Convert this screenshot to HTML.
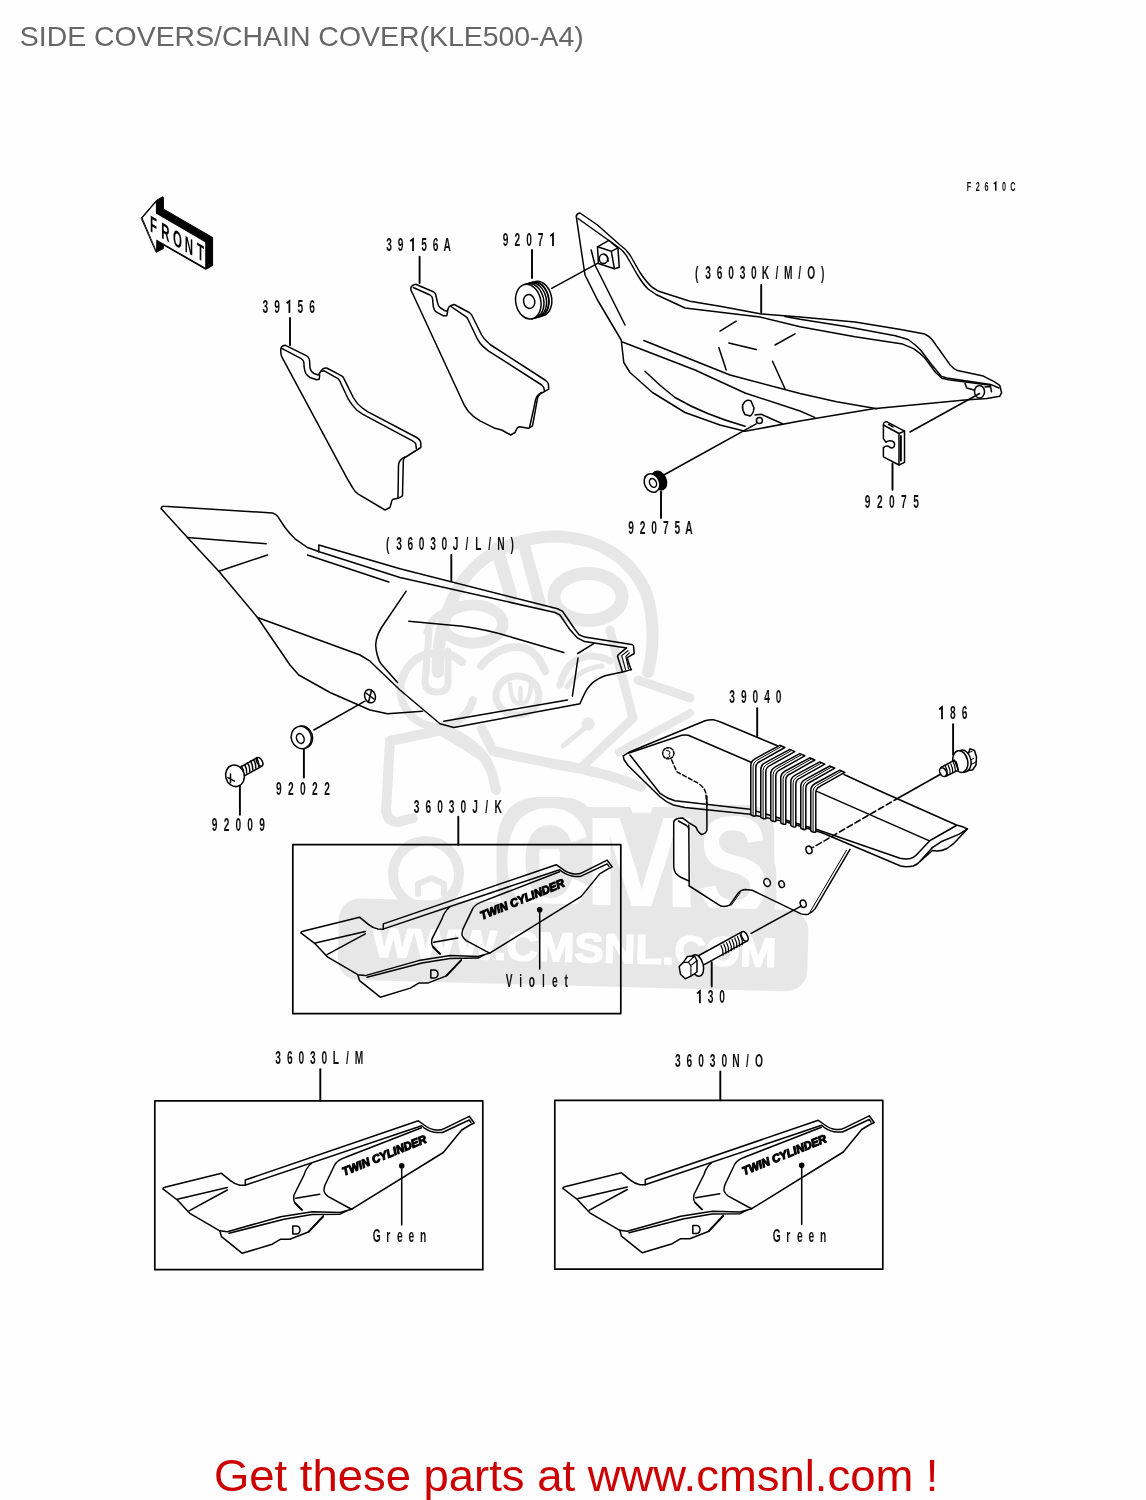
<!DOCTYPE html>
<html><head><meta charset="utf-8"><style>
html,body{margin:0;padding:0;background:#fefefe;}
body{width:1146px;height:1500px;overflow:hidden;position:relative;}
svg{position:absolute;left:0;top:0;will-change:transform;}
text{font-family:"Liberation Sans",sans-serif;}
.lb{text-anchor:middle;stroke:none;}
</style></head><body>
<svg width="1146" height="1500" viewBox="0 0 1146 1500">
<text x="19.8" y="46" font-size="27.5" fill="#666" textLength="564" lengthAdjust="spacingAndGlyphs">SIDE COVERS/CHAIN COVER(KLE500-A4)</text>

<g fill="none" stroke="#e7e7e7" stroke-width="10" stroke-linecap="round" stroke-linejoin="round">
  <path d="M438,672 C436,640 448,590 478,564 C505,541 540,535 565,537 C600,540 630,558 645,590 C655,615 654,650 648,672" stroke-width="12"/>
  <path d="M497,549 L511,596" stroke-width="13"/>
  <path d="M525,549 L540,604" stroke-width="12"/>
  <ellipse cx="473" cy="624" rx="30" ry="19" stroke-width="11"/>
  <ellipse cx="588" cy="597" rx="34" ry="23.5" stroke-width="13"/>
  <path d="M429,632 L425,683 Q426,692 437,692 Q448,692 448,683 L448,651" stroke-width="7"/>
  <path d="M462,662 A37,37 0 1 0 473,700" stroke-width="8"/>
  <path d="M444,733 Q462,743 487,760" stroke-width="9"/>
  <path d="M427,632 Q430,620 440,614" stroke-width="7"/>
  <ellipse cx="517.5" cy="695.5" rx="21.5" ry="19.5" stroke-width="7"/>
  <path d="M510,684 Q511,704 520.5,704 Q530,704 531,684 M520.5,688 L520.5,701" stroke-width="4.5"/>
  <path d="M481,666 Q500,643 525,648 Q538,653 545,671" stroke-width="8"/>
  <path d="M560,685 Q566,660 588,656 Q602,656 610,661" stroke-width="7"/>
  <path d="M567,687 Q580,668 602,666" stroke-width="5"/>
  <path d="M586,727 L563,746" stroke-width="5"/>
  <path d="M610,630 L633,718 L582,767" stroke-width="9"/>
  <path d="M638,680 L690,698" stroke-width="9"/>
  <path d="M690,713 L619,752" stroke-width="8"/>
  <path d="M390,741 L440,730.5 Q455,733 461,737.5 Q478,748 483,756 Q492,770 493,777 L496,790"/>
  <path d="M482,729 L493,751 Q520,757 560,765 Q605,772 641,787"/>
  <path d="M390,741 L386,811 Q388,822 398,822 L413,818"/>
  <circle cx="426" cy="874" r="33"/>
  <path d="M418,894 L418,884 L431,878 L444,884 L444,894" stroke-width="6"/>
</g>
<circle cx="588" cy="724" r="6.5" fill="#e7e7e7"/>
<defs><filter id="cmsf" x="-30%" y="-40%" width="160%" height="180%" color-interpolation-filters="sRGB"><feMorphology operator="dilate" radius="20" in="SourceAlpha" result="d"/><feMorphology operator="erode" radius="9" in="d" result="e"/><feFlood flood-color="#e7e7e7"/><feComposite in2="e" operator="in"/></filter></defs>
<g font-weight="bold" filter="url(#cmsf)">
<text x="502.6" y="914" font-size="150" textLength="88.8" lengthAdjust="spacingAndGlyphs" fill="#000">C</text>
<text x="583.3" y="914" font-size="140" textLength="116.6" lengthAdjust="spacingAndGlyphs" fill="#000">M</text>
<text x="697.2" y="914" font-size="140" textLength="72.3" lengthAdjust="spacingAndGlyphs" fill="#000">S</text>
</g><g font-weight="bold">
<text x="502.6" y="914" font-size="150" textLength="88.8" lengthAdjust="spacingAndGlyphs" fill="#fefefe">C</text>
<text x="583.3" y="914" font-size="140" textLength="116.6" lengthAdjust="spacingAndGlyphs" fill="#fefefe">M</text>
<text x="697.2" y="914" font-size="140" textLength="72.3" lengthAdjust="spacingAndGlyphs" fill="#fefefe">S</text>
</g>
<g transform="rotate(1.5 574 943)">
<rect x="338.2" y="904.2" width="469.8" height="81.5" rx="21" fill="#e7e7e7"/>
<text x="372.7" y="961.7" font-size="41" font-weight="bold" fill="#fefefe" stroke="#fefefe" stroke-width="1.5" stroke-linejoin="round" textLength="404" lengthAdjust="spacingAndGlyphs">WWW.CMSNL.COM</text>
</g>

<g fill="none" stroke="#000" stroke-width="1.5" stroke-linejoin="round" stroke-linecap="round">
<path d="M141.4,217.8 L156.4,200.4 L162.6,196.8 L163.4,197.8 L163.4,209 L212.6,237.5 L212.6,265.5 L205.8,269.4 L163.4,245 L163.4,248.5 L156.5,252.2 Z" fill="#000" stroke="#000" stroke-width="1"/>
<path d="M142.6,218 L155.9,202.6 L155.9,213.6 L205.2,242.2 L205.2,267.4 L156.3,239.6 L156.1,249.8 Z" fill="#fff" stroke="none"/>
<g transform="translate(150.4,231.4) skewY(30)"><text transform="scale(0.5,1)" x="6 30.2 54.2 77.2 100.2" y="0" font-size="23" font-weight="bold" text-anchor="middle" fill="#000" stroke="none">FRONT</text></g>
<path d="M280.8,349 Q281,346 285,345.2 L306.7,355.8 Q309.5,357.5 309.5,360 L310,368.3 Q311,372 314,373.5 L318.3,375 Q320,373 320.5,371.5 L322.5,369.2 Q324.5,367.8 326.7,368 L341.7,375.8 Q343.5,377 344.2,379.2 L353.3,397.5 Q357,404 361.7,407.5 L367.5,411.7 L416.7,437.5 Q421,440 420.8,444 L420.8,447.5 L405,457.5 Q403.3,459 403.3,461 L402.5,495.8 L398.3,498.3 L393.3,499.2 Q391.7,500 391.5,502 L390,507.5 L385,510 L358.3,494.2 Q354.5,491.5 352.5,487.5 L347.5,479.2 L281.7,356.7 Q280.5,354 280.8,349 Z" />
<path d="M281.7,348.3 L300.8,358.3 Q303.5,360 303.8,362 L304.2,367.5 Q304.6,371 305.8,373.3 Q307.5,376 310,377.5 L316.7,379.7 L319.2,379.2 L319.7,375" />
<path d="M321.7,371.3 L324.2,370.8 L337.5,378.3 Q339,379.5 339.7,380.8 L348.3,399.2 Q352,405.5 356.7,410 L362.5,414.2 L412.5,440.8 Q415.5,442.5 415.8,444.2 L416.3,448.3" />
<path d="M405,457 Q399,459.5 398.5,465 L398,497.5" />
<path d="M290,318 L290,345.3" stroke-width="1.9"/>
<path d="M286.60,303.29 L289.40,300.99 L289.40,313.10" stroke-width="1.75" stroke-linecap="butt" stroke-linejoin="miter"/>
<text class="lb" transform="scale(0.58,1)" x="457.41 477.59 497.76 517.93 538.10" y="313.10" font-size="17.6" font-weight="bold" fill="#111" xml:space="preserve">39 56</text>
<path d="M410.8,288.3 Q411,285 415.8,284.2 L433.3,291.7 Q435.5,293 435.8,295 L437.5,302.5 Q438,306 440,307.5 L445,310.8 L447.5,311.3 L448.3,308.3 Q449,306 451,305.5 L454.2,304.5 L469.2,312.5 Q471,314 471.7,315 L481.7,335 Q484,339 487,341.5 L490.8,345 L545,380 Q548.5,382.5 548.5,385 L548.7,389.2 L540,394.2 Q537.8,396 537.5,398.3 L532.5,425.8 L528.3,428.3 L524.2,427.5 L519.2,426.7 Q517,427.5 516.7,429 L515,432.5 L510.8,435 L501.7,430 L495,428.3 L480,420.8 Q472.5,416.5 468,411 L464.2,405 L412.5,293.3 Q410.5,290 410.8,288.3 Z" />
<path d="M413.3,287.5 L430,295 Q432.2,296.5 432.5,298.3 L433.3,306.7 Q434,310 435.8,311.7 L443.3,315.8 L446.7,315.8 L447.6,312" />
<path d="M451,306.5 L465.8,316.7 Q467.5,318 468.3,320 L477.5,339.2 Q480,344 483.3,346.7 L488.3,350.8 L541.7,385 Q544,387 544.2,389.2 L544.4,390.8" />
<path d="M541.5,392.5 Q536.5,395.5 535.5,400 L533.8,408.3 L529.5,427.5" />
<path d="M419.6,256.7 L419.6,283" stroke-width="1.9"/>
<path d="M410.22,241.29 L413.02,238.99 L413.02,251.10" stroke-width="1.75" stroke-linecap="butt" stroke-linejoin="miter"/>
<text class="lb" transform="scale(0.58,1)" x="670.69 690.79 710.90 731.00 751.10 771.21" y="251.10" font-size="17.6" font-weight="bold" fill="#111" xml:space="preserve">39 56A</text>
<g transform="rotate(-12 528.3 301.7)"><path d="M528.3,284.2 L536.3,283.4 A12.5,17.5 0 0 1 536.3,318.4 L528.3,319.2" fill="#fff"/><path d="M531.3,284 A12.5,17.5 0 0 1 531.3,319"/><path d="M534,283.8 A12.5,17.5 0 0 1 534,318.8"/><path d="M536.6,283.5 A12.5,17.5 0 0 1 536.6,318.5"/><path d="M539.5,283.4 A12.5,17.5 0 0 1 539.5,318.4 L528.3,319.2"/><ellipse cx="528.3" cy="301.7" rx="12.5" ry="17.5" fill="#fff"/><ellipse cx="529.2" cy="301.7" rx="5.6" ry="7"/></g>
<path d="M532,250 L532,278" stroke-width="1.9"/>
<path d="M551.7,288.3 L601.2,261.3" />
<path d="M550.20,236.19 L553.00,233.89 L553.00,246.00" stroke-width="1.75" stroke-linecap="butt" stroke-linejoin="miter"/>
<text class="lb" transform="scale(0.58,1)" x="871.90 891.98 912.07 932.16 952.24" y="246.00" font-size="17.6" font-weight="bold" fill="#111" xml:space="preserve">9207 </text>
<path d="M576.2,216.2 Q577,213 580,213 L597.5,225 L620,245 Q626,249 630,255 L640,272.5 Q647,283 652.5,287.5 L658.8,291.3 L690,301.3 L720,306.3 L760,313.8 L800,317.1 L855,322.1 L900.8,329.4 L924.6,334 Q929,336 932,339.5 L950.3,365.1 Q953,368.5 957.6,370.6 L983.3,376.1 L994.2,381.6 L999.7,385.3 L1001.6,392.6 L999.7,396.3 L986.9,398.5 L964.9,400 L873.3,408.7 L800,421 L745,431.3 L720,425 L685,412.5 L652.5,392.5 L630,372.5 L623.8,362.5 L621.2,340 L597.5,300 L585,275 L581.2,250 Z" />
<path d="M785,316.4 L800,319.3 L845.8,326.6 L895.3,335.8 L908.1,339.5 Q916,345 921,350.5 L932,365.1 L941.1,376.1 L946.6,378 L990.6,384.4 L999,388" />
<path d="M578,218.5 L618,247 Q624,251 627.5,257.5 L637.5,275 Q643,284 648,289 L656,294.5 L685,308 L760,317 L800,326.7 L855,336.7 L902.6,344.1 L913.6,348.6 Q920,353 924.6,357.8 L935.6,372.5 L942,378.3 L948.4,379.8 L990.6,385.3" />
<path d="M622.5,342 L695,370 L745,393 L800,411 L814.7,417.4" />
<path d="M643.8,340.5 L730,375 L800,393.5 L836.6,401.8 L877,408.7" />
<path d="M591.2,250 L595,265 L625,325" />
<path d="M645,371.2 Q660,386 675,397.5 Q705,415 745,426.2" />
<path d="M720,331.2 L736.2,321.2" />
<path d="M728.8,343 L756.2,349.5" />
<path d="M775,345 L795,333.8" />
<path d="M718.8,347.5 L726.2,370" />
<path d="M772.5,361.2 L785,388.8" />
<path d="M745,401.5 Q748,399.5 751,401 L754,408 Q753.5,414 750,416 L745,414.5 Q742,410 742.6,405 Z" />
<circle cx="759.4" cy="420.6" r="3" fill="#fff"/>
<path d="M755,415 L761.2,414.3 L782.5,423.8" />
<path d="M597.5,246.8 L608.8,240.3 L617.9,247.8 L619.3,267.3 L614.4,268.7 L598.4,263.5 Z" fill="#fff"/>
<path d="M597.5,246.8 L611.3,251.3 L617.9,247.8 M611.3,251.3 L614.4,268.7" />
<ellipse cx="603.5" cy="258.8" rx="4.2" ry="4.8" fill="#fff"/>
<path d="M604.5,254.5 Q608.5,256 608,261.5" />
<path d="M756.2,423.8 L663.8,475" />
<path d="M965,383.5 L966.8,388 L974,389.9" />
<ellipse cx="979.5" cy="391.7" rx="5" ry="6.3" fill="#fff"/>
<path d="M985,387 L990.5,386.5 L991.5,391.8" />
<path d="M979.6,393.5 L910,432" />
<path d="M761.2,285 L761.2,313" stroke-width="1.9"/>
<text class="lb" transform="scale(0.58,1)" x="1201.21 1220.96 1240.71 1260.45 1280.20 1299.95 1319.70 1339.45 1359.20 1378.95 1398.70 1418.45" y="279.40" font-size="17.6" font-weight="bold" fill="#111" xml:space="preserve">(36030K/M/O)</text>
<path d="M993.81,183.84 L995.80,182.29 L995.80,190.80" stroke-width="1.4" stroke-linecap="butt" stroke-linejoin="miter"/>
<text class="lb" transform="scale(0.58,1)" x="1670.52 1685.69 1700.86 1716.03 1731.21 1746.38" y="190.80" font-size="12.5" font-weight="bold" fill="#111" xml:space="preserve">F26 0C</text>
<path d="M883.4,425 Q883.4,421.6 887,421.8 L904.5,431.1 L904.5,462.3 L899,465 L883.4,456.8 L883.4,447.6 Q886,445.3 888.5,446.2 Q892,449.5 894.2,446.5 Q895.5,442.5 892.5,441.2 Q888.5,440 886,442.3 L883.4,438.6 Z" fill="#fff"/>
<path d="M883.4,425 L899,433.5 L904.5,431.1 M899,433.5 L899,465" />
<path d="M888.5,424.3 L893,426.8" />
<path d="M900.9,436 L900.9,460.5" stroke-width="1.9"/>
<path d="M892.5,463.5 L892.5,489.7" stroke-width="1.9"/>
<text class="lb" transform="scale(0.58,1)" x="1496.03 1516.85 1537.67 1558.49 1579.31" y="507.60" font-size="17.6" font-weight="bold" fill="#111" xml:space="preserve">92075</text>
<ellipse cx="659.2" cy="480.5" rx="6.8" ry="9.8" transform="rotate(-25 659.2 480.5)" fill="#000"/>
<ellipse cx="652" cy="483" rx="7.4" ry="9.6" transform="rotate(-25 652 483)" fill="#fff"/>
<ellipse cx="653" cy="482.9" rx="3.3" ry="4.6" transform="rotate(-25 653 482.9)"/>
<path d="M661,491.4 L661,518" stroke-width="1.9"/>
<text class="lb" transform="scale(0.58,1)" x="1087.93 1107.93 1127.93 1147.93 1167.93 1187.93" y="533.60" font-size="17.6" font-weight="bold" fill="#111" xml:space="preserve">92075A</text>
<path d="M161.2,508.8 Q161.5,506 163.8,506.2 L272.5,513 Q276,514 277.5,516.2 L285,527.5 Q290,534 295,538.8 L307.5,547.5 L320,552 L400,577.5 L555,612.5 L560,615 L570,629.8 L577.7,638.2 L584.7,641.6 L626.5,647.9" />
<path d="M161.2,508.8 L187.5,537.5 L218.8,571.2 L257.5,617.5 L290,665 L298.8,675 L330,692.5 L370,710 L387.5,713.8 L422.5,711.2" />
<path d="M318.8,552 L318.8,545 L400,568.8 L557.5,608.8 L562.5,611.2 Q570,622 574.2,628.4 L579.1,634.7 L584.7,637.1 L631.4,644.4 Q633.5,645 633.5,645.8 L634.2,653.5 L627.2,657.7 L629.3,664.7 L631.1,669.6" />
<path d="M257.5,617.5 L360,655 L370,661.2 L400,690 L440,723.8 L453.8,727.5 L580,703.8 Q584,694 587.5,688.4 Q592,683 594.4,681.4 Q600,677.5 604.9,675.8 L622.4,672 L631.4,669.6" />
<path d="M443.8,721.2 L567.5,700" />
<path d="M187.5,537.5 L266.2,543.8" />
<path d="M218.8,571.2 L267.5,555" />
<path d="M307.5,555 L388.8,582" />
<path d="M406.2,591.2 L381.5,627.5 Q374,640 376.2,650 Q378,660 381.2,664 L397.5,682.5" />
<path d="M408.8,621.2 L462.5,626.2 Q490,630 512.5,637.5 L563.8,652.5" />
<path d="M577.7,653.5 L593.7,643.7" />
<path d="M578,658 L572.4,696.1" />
<path d="M626.5,647.9 L618.2,654.9 L617.5,656.3 L622.4,671.7" />
<path d="M628,650.7 L621.7,655.6 L625.8,670.3" stroke-width="1.1"/>
<path d="M629.3,652.8 L625.8,656.3 L628.6,668.9" stroke-width="1.1"/>
<ellipse cx="370" cy="696.2" rx="5.3" ry="6.8" transform="rotate(-20 370 696.2)" fill="#fff"/>
<path d="M366,693 L374,699 M371.5,690.5 L368.5,702" />
<path d="M365,701.2 L313.8,730" />
<path d="M451.3,555 L451.3,581" stroke-width="1.9"/>
<text class="lb" transform="scale(0.58,1)" x="668.45 687.98 707.51 727.04 746.57 766.10 785.63 805.16 824.69 844.22 863.75 883.28" y="550.20" font-size="17.6" font-weight="bold" fill="#111" xml:space="preserve">(36030J/L/N)</text>
<ellipse cx="302.5" cy="737.2" rx="10" ry="11.3" transform="rotate(-20 302.5 737.2)" fill="#fff"/>
<ellipse cx="301.3" cy="737.5" rx="10" ry="11.3" transform="rotate(-20 301.3 737.5)" fill="#fff"/>
<ellipse cx="300.3" cy="738.5" rx="3.7" ry="5" transform="rotate(-20 300.3 738.5)"/>
<path d="M303.9,749.7 L303.9,777.6" stroke-width="1.9"/>
<text class="lb" transform="scale(0.58,1)" x="480.69 501.47 522.24 543.02 563.79" y="795.00" font-size="17.6" font-weight="bold" fill="#111" xml:space="preserve">92022</text>
<path d="M239.6,767.6 L257.5,757.5 L261.9,766.2 L244.4,775.8 Z" fill="#fff"/>
<ellipse cx="259.7" cy="761.9" rx="2.6" ry="4.6" transform="rotate(-28 259.7 761.9)" fill="#fff"/>
<path d="M241.5,766.1 Q244.1,770.0 243.7,774.7"/>
<path d="M244.5,764.5 Q247.1,768.4 246.7,773.1"/>
<path d="M247.5,762.8 Q250.1,766.7 249.7,771.4"/>
<path d="M250.5,761.1 Q253.1,765.0 252.7,769.8"/>
<path d="M253.5,759.5 Q256.1,763.4 255.7,768.1"/>
<path d="M256.5,757.9 Q259.1,761.8 258.7,766.5"/>
<ellipse cx="235" cy="775.8" rx="9.3" ry="10.9" transform="rotate(-15 235 775.8)" fill="#fff"/>
<path d="M230.5,774.1 L230.5,782.8 M227.9,777.6 L234.4,781.1" />
<path d="M239.9,786.3 L239.9,814.7" stroke-width="1.9"/>
<text class="lb" transform="scale(0.58,1)" x="370.17 390.56 410.95 431.34 451.72" y="831.00" font-size="17.6" font-weight="bold" fill="#111" xml:space="preserve">92009</text>
<path d="M623.3,755.8 L630,751.7 L705,720.8 Q709,719.5 713.3,719.7 Q717.5,720.5 721.7,722.5 L777.5,745.8" />
<path d="M628.3,753.3 L681.7,735.3 Q685,734.8 688.3,735.3 L751.7,762.5" />
<path d="M630,755 L660,793.3 Q667,798.5 675,800.8 L750,809.2 L818.3,830 L900,858.3 Q906,859.5 910.3,858.6 Q914,857.5 916.1,855.3 L929.5,840.9" />
<path d="M623.3,755.8 Q623.5,758 624.2,760 L628.3,765.8 L660,796.7 Q666,802 673.3,805 L685,807.5 L750,814.2 L787.2,822.3 L822,832.8 L900,865.8 Q906,867.5 913.3,866 Q918,864 919.9,861.5 L932.4,847.6" />
<path d="M844,774.5 L877.7,790 L956.4,825 Q962,826 967.4,828.9" />
<path d="M815.8,790.9 L929.5,840.9 L936.2,837 L956.4,825.5" />
<path d="M932.4,847.6 L941,841.8 L959.3,834.1 L967.4,828.9" />
<path d="M919.9,861.5 L932.4,850.5 Q940,852 947,848.5 L953.5,843.7 L967.4,828.9" />
<path d="M750.8,814.7 L750.8,765.8 Q750.8,760.8 755.3,758.6 L779.8,745.3 L784.8,747.5 L760.3,761.3 Q755.8,763.3 755.8,767.8 L755.8,815.9 Q753.3,816.7 750.8,814.7 Z" fill="#fff"/>
<path d="M753.1,815.2 L753.1,766.3 Q753.1,762.8 756.6,760.5 L781.3,746.5" stroke-width="1"/>
<path d="M760.8,817.4 L760.8,769.9 Q760.8,764.9 765.3,762.7 L789.8,749.4 L794.8,751.6 L770.3,765.4 Q765.8,767.4 765.8,771.9 L765.8,818.6 Q763.3,819.4 760.8,817.4 Z" fill="#fff"/>
<path d="M763.1,817.9 L763.1,770.4 Q763.1,766.9 766.6,764.6 L791.3,750.6" stroke-width="1"/>
<path d="M770.8,820.1 L770.8,774.1 Q770.8,769.1 775.3,766.9 L799.8,753.6 L804.8,755.8 L780.3,769.6 Q775.8,771.6 775.8,776.1 L775.8,821.3 Q773.3,822.1 770.8,820.1 Z" fill="#fff"/>
<path d="M773.1,820.6 L773.1,774.6 Q773.1,771.1 776.6,768.8 L801.3,754.8" stroke-width="1"/>
<path d="M780.8,822.8 L780.8,778.2 Q780.8,773.2 785.3,771.0 L809.8,757.8 L814.8,760.0 L790.3,773.8 Q785.8,775.8 785.8,780.2 L785.8,824.0 Q783.3,824.8 780.8,822.8 Z" fill="#fff"/>
<path d="M783.1,823.3 L783.1,778.8 Q783.1,775.2 786.6,773.0 L811.3,759.0" stroke-width="1"/>
<path d="M790.8,825.5 L790.8,782.4 Q790.8,777.4 795.3,775.2 L819.8,761.9 L824.8,764.1 L800.3,777.9 Q795.8,779.9 795.8,784.4 L795.8,826.7 Q793.3,827.5 790.8,825.5 Z" fill="#fff"/>
<path d="M793.1,826.0 L793.1,782.9 Q793.1,779.4 796.6,777.1 L821.3,763.1" stroke-width="1"/>
<path d="M800.8,828.2 L800.8,786.5 Q800.8,781.5 805.3,779.3 L829.8,766.0 L834.8,768.2 L810.3,782.0 Q805.8,784.0 805.8,788.5 L805.8,829.4 Q803.3,830.2 800.8,828.2 Z" fill="#fff"/>
<path d="M803.1,828.7 L803.1,787.0 Q803.1,783.5 806.6,781.2 L831.3,767.2" stroke-width="1"/>
<path d="M810.8,830.9 L810.8,790.7 Q810.8,785.7 815.3,783.5 L839.8,770.2 L844.8,772.4 L820.3,786.2 Q815.8,788.2 815.8,792.7 L815.8,832.1 Q813.3,832.9 810.8,830.9 Z" fill="#fff"/>
<path d="M813.1,831.4 L813.1,791.2 Q813.1,787.7 816.6,785.4 L841.3,771.4" stroke-width="1"/>
<circle cx="668.3" cy="753.3" r="5.6" stroke-dasharray="2.5 1.5" fill="none"/>
<path d="M666.5,750.5 Q670,750 670,753 Q668,754.5 670,756 Q669.5,758 667,757.5" stroke-width="1"/>
<path d="M671.7,760 L676.7,771.7 L698.3,783.3 Q705,788 705.8,793.3 L706.9,806.7" stroke-dasharray="4 2.5" fill="none"/>
<path d="M706.9,796 L706.9,830.1 Q706,833.6 701.6,834.5 Q699,833 697.3,830.1 Q696.5,827.5 695.5,826.6 L689.4,823.2 L682.5,817.9 Q679,817.9 677.2,818.8 Q673.7,820 673.7,822.3 L673.7,866.8 Q674,870.5 675.5,872.9 Q678,875.5 680.7,877.3 L689,881" />
<path d="M689.4,886 L720.8,906.1 Q726,907 729.6,905.2 L738.3,893 Q741.5,889.5 745.3,889.5 L752.3,890.3 L801.1,913.9 Q805,915 808.1,914.3 Q812.5,912.5 815.1,908.7 L850,849.3" />
<path d="M688.8,825 L689.2,886" />
<path d="M678.5,821 L686.5,825.5 Q688.6,827 688.8,829" />
<path d="M731.3,905.2 L740,893" stroke-width="1"/>
<path d="M809.9,912.2 L846.5,850.2" stroke-width="1"/>
<ellipse cx="809" cy="849.9" rx="2.9" ry="3.8" transform="rotate(-20 809 849.9)" fill="#fff"/>
<ellipse cx="767.1" cy="882.5" rx="3.2" ry="4" transform="rotate(-20 767.1 882.5)" fill="#fff"/>
<ellipse cx="781.6" cy="884.2" rx="2.7" ry="3.4" transform="rotate(-20 781.6 884.2)" fill="#fff"/>
<ellipse cx="803.2" cy="903.8" rx="2.9" ry="3.7" transform="rotate(-20 803.2 903.8)" fill="#fff"/>
<path d="M757.2,708.3 L757.2,735.8" stroke-width="1.9"/>
<text class="lb" transform="scale(0.58,1)" x="1262.41 1282.46 1302.50 1322.54 1342.59" y="703.40" font-size="17.6" font-weight="bold" fill="#111" xml:space="preserve">39040</text>
<path d="M940,774.5 L899.2,797.5" />
<path d="M899.2,797.5 L812.5,847.6" stroke-dasharray="6 3" fill="none"/>
<path d="M970,748.7 L974.5,750.5 L976.5,757 L976,765 L972.5,770 L968,770.5 L964,766 Z" fill="#fff"/>
<path d="M966,753 L972,751.5 M973.5,758.5 L967.5,761.5 M976,762 L970,765" stroke-width="1"/>
<ellipse cx="963.5" cy="761" rx="7.4" ry="11" transform="rotate(-12 963.5 761)" fill="#fff"/>
<ellipse cx="960.3" cy="761.6" rx="7.4" ry="11" transform="rotate(-12 960.3 761.6)" fill="#fff"/>
<path d="M940.9,767.5 L954.4,760.1 L958.4,770.1 L945.7,776.2 Z" fill="#fff"/>
<ellipse cx="943.1" cy="772.2" rx="3.2" ry="4.6" transform="rotate(-28 943.1 772.2)" fill="#fff"/>
<path d="M945.5,766.4 Q947.8,770.5 947.5,775.2" stroke-width="1.2"/>
<path d="M948.1,765.1 Q950.4,769.2 950.1,773.9" stroke-width="1.2"/>
<path d="M950.7,763.8 Q953.0,767.9 952.7,772.6" stroke-width="1.2"/>
<path d="M953.3,762.5 Q955.6,766.6 955.3,771.3" stroke-width="1.2"/>
<path d="M955.9,761.2 Q958.2,765.3 957.9,770.0" stroke-width="1.2"/>
<path d="M953.1,724.2 L953.1,754.4" stroke-width="1.9"/>
<path d="M939.20,709.49 L942.00,707.19 L942.00,719.30" stroke-width="1.75" stroke-linecap="butt" stroke-linejoin="miter"/>
<text class="lb" transform="scale(0.58,1)" x="1622.93 1642.93 1662.93" y="719.30" font-size="17.6" font-weight="bold" fill="#111" xml:space="preserve"> 86</text>
<path d="M697.9,956 L742.4,931.6 L746.8,941.2 L702.3,965.6 Z" fill="#fff"/>
<ellipse cx="744.6" cy="936.4" rx="2.8" ry="5.2" transform="rotate(-28 744.6 936.4)" fill="#fff"/>
<path d="M721.0,945.5 Q723.5,950.0 723.1,955.1" stroke-width="1.2"/>
<path d="M723.8,944.0 Q726.2,948.5 725.9,953.6" stroke-width="1.2"/>
<path d="M726.5,942.5 Q729.0,947.0 728.6,952.1" stroke-width="1.2"/>
<path d="M729.2,941.0 Q731.8,945.5 731.4,950.6" stroke-width="1.2"/>
<path d="M732.0,939.5 Q734.5,944.0 734.1,949.1" stroke-width="1.2"/>
<path d="M734.8,938.0 Q737.2,942.5 736.9,947.6" stroke-width="1.2"/>
<path d="M737.5,936.5 Q740.0,941.0 739.6,946.1" stroke-width="1.2"/>
<path d="M740.2,935.0 Q742.8,939.5 742.4,944.6" stroke-width="1.2"/>
<ellipse cx="697" cy="965.5" rx="6.2" ry="11" transform="rotate(-15 697 965.5)" fill="#fff"/>
<path d="M679.2,966.5 L683.1,962.6 L687.5,956.5 L694.5,956 L697,960.5 L697,972 L690.9,976.1 L685.3,978.7 L680.5,974.3 Z" fill="#fff"/>
<path d="M683.1,962.6 L688.3,962.1 L690.9,965.6 L690.9,976.1 M690.9,965.6 L697,960.5 M688.3,962.1 L694.5,956" stroke-width="1.1"/>
<path d="M711.7,962.1 L711.7,986.6" stroke-width="1.9"/>
<path d="M751.2,933.3 L801.1,906.1" />
<path d="M697.10,993.49 L699.90,991.19 L699.90,1003.30" stroke-width="1.75" stroke-linecap="butt" stroke-linejoin="miter"/>
<text class="lb" transform="scale(0.58,1)" x="1205.52 1225.17 1244.83" y="1003.30" font-size="17.6" font-weight="bold" fill="#111" xml:space="preserve"> 30</text>
<rect x="154.8" y="1100.8" width="328" height="168.9" stroke-width="1.7" fill="none"/>
<g transform="translate(0.00,0.00)"><path d="M163.2,1189.2 Q162.5,1187.8 164.8,1187.3 L221.5,1173.3 L230.7,1180.8 Q235,1184.3 240,1185.2 L245.3,1185.3" /><path d="M245.3,1185.3 L245.3,1180 L418.3,1120.8 L424.2,1125 Q430,1129.5 436,1130 Q441,1130.5 444.2,1128.7 L469.2,1116.3 L474.2,1123 L470,1125 L461.7,1130 L443.3,1152.5 L351.7,1209.2" /><path d="M246.5,1184.7 L421.7,1125.8 L424,1127.8 Q431,1132.5 437,1132.5 L442.5,1132.5 L469.2,1120 L471,1122.5" /><path d="M163.2,1189.2 L177.3,1200 L189.8,1213.3 L219.8,1230.8 L227.3,1231.7 L280.7,1216.7 L312.3,1211.7 L340,1212.5 L351.7,1209.2" /><path d="M229,1233.3 L284,1219.2 L312,1214.5 L340,1214.2 L346.7,1210.8" /><path d="M219.8,1230.8 L221.5,1236.7 L242.3,1253.3 L272.3,1244.2 L280.7,1239.2 L289.8,1239.2 L309,1231.7 L323.2,1216.7" /><path d="M177.3,1199.2 L227.3,1187.5" /><path d="M189,1210.8 L227.3,1190" /><path d="M311.5,1163.3 Q306,1168 304,1175 L294,1195 Q293,1200 294.8,1202.5 L302.3,1210" /><path d="M295.7,1198.3 L319.8,1194.2" /><path d="M421.5,1127.8 L345,1157.5 Q338,1160 335,1164.2 L325,1185 Q323.5,1190 324.2,1191.7 Q325.5,1194.5 328.3,1196.7 L348.3,1207.5 L351.7,1209.2" /><path d="M323.3,1215.8 L308.3,1231.7" /><path d="M295,1203.3 L301.7,1210" /><path d="M292.8,1226 L296.5,1226 Q300,1226.5 300,1230 Q300,1233.5 296.5,1234 L292.8,1234 Z" /><g transform="translate(344,1175.8) rotate(-22)"><text x="0" y="0" font-size="11.5" font-weight="bold" font-style="italic" textLength="90" lengthAdjust="spacingAndGlyphs" fill="#000" stroke="#000" stroke-width="1.1">TWIN CYLINDER</text></g><circle cx="401.7" cy="1165.8" r="2.1" fill="#000" stroke-width="1.4"/><path d="M401.7,1165.8 L401.7,1225" /></g>
<text class="lb" transform="scale(0.58,1)" x="649.66 669.57 689.48 709.40 729.31" y="1242.40" font-size="17.6" font-weight="bold" fill="#111" xml:space="preserve">Green</text>
<path d="M320.3,1069.3 L320.3,1100.8" stroke-width="1.9"/>
<text class="lb" transform="scale(0.58,1)" x="479.66 499.58 519.51 539.43 559.36 579.29 599.21 619.14" y="1064.20" font-size="17.6" font-weight="bold" fill="#111" xml:space="preserve">36030L/M</text>
<rect x="554.8" y="1100.3" width="328" height="168.9" stroke-width="1.7" fill="none"/>
<g transform="translate(400.00,-0.50)"><path d="M163.2,1189.2 Q162.5,1187.8 164.8,1187.3 L221.5,1173.3 L230.7,1180.8 Q235,1184.3 240,1185.2 L245.3,1185.3" /><path d="M245.3,1185.3 L245.3,1180 L418.3,1120.8 L424.2,1125 Q430,1129.5 436,1130 Q441,1130.5 444.2,1128.7 L469.2,1116.3 L474.2,1123 L470,1125 L461.7,1130 L443.3,1152.5 L351.7,1209.2" /><path d="M246.5,1184.7 L421.7,1125.8 L424,1127.8 Q431,1132.5 437,1132.5 L442.5,1132.5 L469.2,1120 L471,1122.5" /><path d="M163.2,1189.2 L177.3,1200 L189.8,1213.3 L219.8,1230.8 L227.3,1231.7 L280.7,1216.7 L312.3,1211.7 L340,1212.5 L351.7,1209.2" /><path d="M229,1233.3 L284,1219.2 L312,1214.5 L340,1214.2 L346.7,1210.8" /><path d="M219.8,1230.8 L221.5,1236.7 L242.3,1253.3 L272.3,1244.2 L280.7,1239.2 L289.8,1239.2 L309,1231.7 L323.2,1216.7" /><path d="M177.3,1199.2 L227.3,1187.5" /><path d="M189,1210.8 L227.3,1190" /><path d="M311.5,1163.3 Q306,1168 304,1175 L294,1195 Q293,1200 294.8,1202.5 L302.3,1210" /><path d="M295.7,1198.3 L319.8,1194.2" /><path d="M421.5,1127.8 L345,1157.5 Q338,1160 335,1164.2 L325,1185 Q323.5,1190 324.2,1191.7 Q325.5,1194.5 328.3,1196.7 L348.3,1207.5 L351.7,1209.2" /><path d="M323.3,1215.8 L308.3,1231.7" /><path d="M295,1203.3 L301.7,1210" /><path d="M292.8,1226 L296.5,1226 Q300,1226.5 300,1230 Q300,1233.5 296.5,1234 L292.8,1234 Z" /><g transform="translate(344,1175.8) rotate(-22)"><text x="0" y="0" font-size="11.5" font-weight="bold" font-style="italic" textLength="90" lengthAdjust="spacingAndGlyphs" fill="#000" stroke="#000" stroke-width="1.1">TWIN CYLINDER</text></g><circle cx="401.7" cy="1165.8" r="2.1" fill="#000" stroke-width="1.4"/><path d="M401.7,1165.8 L401.7,1225" /></g>
<text class="lb" transform="scale(0.58,1)" x="1339.31 1359.22 1379.14 1399.05 1418.97" y="1241.90" font-size="17.6" font-weight="bold" fill="#111" xml:space="preserve">Green</text>
<path d="M720.3,1071.5 L720.3,1100.3" stroke-width="1.9"/>
<text class="lb" transform="scale(0.58,1)" x="1168.62 1188.65 1208.67 1228.69 1248.72 1268.74 1288.77 1308.79" y="1066.80" font-size="17.6" font-weight="bold" fill="#111" xml:space="preserve">36030N/O</text>
<rect x="292.8" y="844.7" width="328" height="168.9" stroke-width="1.7" fill="none"/>
<g transform="translate(138.00,-256.10)"><path d="M163.2,1189.2 Q162.5,1187.8 164.8,1187.3 L221.5,1173.3 L230.7,1180.8 Q235,1184.3 240,1185.2 L245.3,1185.3" /><path d="M245.3,1185.3 L245.3,1180 L418.3,1120.8 L424.2,1125 Q430,1129.5 436,1130 Q441,1130.5 444.2,1128.7 L469.2,1116.3 L474.2,1123 L470,1125 L461.7,1130 L443.3,1152.5 L351.7,1209.2" /><path d="M246.5,1184.7 L421.7,1125.8 L424,1127.8 Q431,1132.5 437,1132.5 L442.5,1132.5 L469.2,1120 L471,1122.5" /><path d="M163.2,1189.2 L177.3,1200 L189.8,1213.3 L219.8,1230.8 L227.3,1231.7 L280.7,1216.7 L312.3,1211.7 L340,1212.5 L351.7,1209.2" /><path d="M229,1233.3 L284,1219.2 L312,1214.5 L340,1214.2 L346.7,1210.8" /><path d="M219.8,1230.8 L221.5,1236.7 L242.3,1253.3 L272.3,1244.2 L280.7,1239.2 L289.8,1239.2 L309,1231.7 L323.2,1216.7" /><path d="M177.3,1199.2 L227.3,1187.5" /><path d="M189,1210.8 L227.3,1190" /><path d="M311.5,1163.3 Q306,1168 304,1175 L294,1195 Q293,1200 294.8,1202.5 L302.3,1210" /><path d="M295.7,1198.3 L319.8,1194.2" /><path d="M421.5,1127.8 L345,1157.5 Q338,1160 335,1164.2 L325,1185 Q323.5,1190 324.2,1191.7 Q325.5,1194.5 328.3,1196.7 L348.3,1207.5 L351.7,1209.2" /><path d="M323.3,1215.8 L308.3,1231.7" /><path d="M295,1203.3 L301.7,1210" /><path d="M292.8,1226 L296.5,1226 Q300,1226.5 300,1230 Q300,1233.5 296.5,1234 L292.8,1234 Z" /><g transform="translate(344,1175.8) rotate(-22)"><text x="0" y="0" font-size="11.5" font-weight="bold" font-style="italic" textLength="90" lengthAdjust="spacingAndGlyphs" fill="#000" stroke="#000" stroke-width="1.1">TWIN CYLINDER</text></g><circle cx="401.7" cy="1165.8" r="2.1" fill="#000" stroke-width="1.4"/><path d="M401.7,1165.8 L401.7,1225" /></g>
<text class="lb" transform="scale(0.58,1)" x="877.93 897.55 917.17 936.79 956.41 976.03" y="986.90" font-size="17.6" font-weight="bold" fill="#111" xml:space="preserve">Violet</text>
<path d="M458.3,816.7 L458.3,844.7" stroke-width="1.9"/>
<text class="lb" transform="scale(0.58,1)" x="718.45 738.55 758.65 778.74 798.84 818.94 839.04 859.14" y="812.60" font-size="17.6" font-weight="bold" fill="#111" xml:space="preserve">36030J/K</text>
</g>
<text x="214" y="1490.6" font-size="44" fill="#cc0000" textLength="724.5" lengthAdjust="spacingAndGlyphs">Get these parts at www.cmsnl.com !</text>
</svg>
</body></html>
